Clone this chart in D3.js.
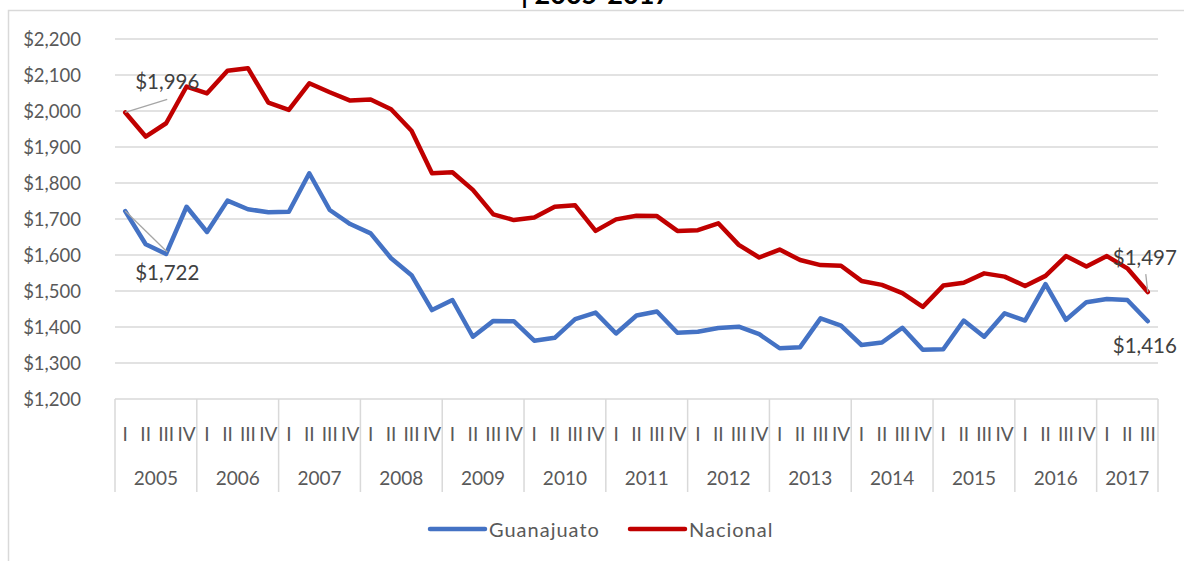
<!DOCTYPE html>
<html>
<head>
<meta charset="utf-8">
<script src="https://cdn.jsdelivr.net/npm/d3@7"></script>
<style>
  html, body { margin: 0; padding: 0; background: #fff; }
  svg { display: block; font-family: Lato, "Open Sans", sans-serif; }
</style>
</head>
<body>
<svg id="chart" width="1184" height="561"></svg>
<script>
// Data
const years = ["2005", "2006", "2007", "2008", "2009", "2010", "2011", "2012", "2013", "2014", "2015", "2016", "2017"];
const quarters = ["I", "II", "III", "IV"];

const guanajuato = [
    1722, 1630, 1603, 1734, 1664, 1751, 1727, 1719, 1720, 1827, 1725, 1686, 1660,
    1591, 1544, 1447, 1475, 1373, 1417, 1416, 1362, 1370, 1422, 1440, 1382, 1432,
    1443, 1384, 1387, 1397, 1401, 1380, 1341, 1344, 1424, 1404, 1350, 1357, 1398,
    1337, 1338, 1418, 1373, 1438, 1418, 1519, 1420, 1469, 1478, 1475, 1416
];
const nacional = [
    1996, 1929, 1966, 2068, 2049, 2112, 2119, 2023, 2003, 2077, 2052, 2029, 2032,
    2005, 1945, 1827, 1830, 1781, 1713, 1697, 1704, 1734, 1738, 1667, 1699, 1709,
    1708, 1667, 1669, 1688, 1628, 1593, 1615, 1586, 1572, 1570, 1528, 1517, 1494,
    1456, 1515, 1523, 1549, 1540, 1514, 1542, 1597, 1568, 1597, 1563, 1497
];
const yTicks = [1200, 1300, 1400, 1500, 1600, 1700, 1800, 1900, 2000, 2100, 2200];

// one category per quarter, 2017 stops at III
const periods = [];
years.forEach(y => {
    const n = y === "2017" ? 3 : 4;
    for (let q = 0; q < n; q++) periods.push({ year: y, q: quarters[q], key: y + "-" + quarters[q] });
});

const series = [
    { name: "Guanajuato", values: guanajuato, color: "#4472C4" },
    { name: "Nacional", values: nacional, color: "#C00000" }
];

const svg = d3.select("#chart");
const plotLeft = 115, plotRight = 1158, plotTop = 39, plotBottom = 399;
const gridColor = "#d9d9d9";
const textColor = "#595959";

const x = d3.scaleBand().domain(periods.map(p => p.key)).range([plotLeft, plotRight]).padding(0);
const y = d3.scaleLinear().domain([1200, 2200]).range([plotBottom, plotTop]);
const cx = i => x(periods[i].key) + x.bandwidth() / 2;
const fmt = d3.format("$,");

// chart frame (cropped)
svg.append("path")
    .attr("d", "M8.5,561 V10.5 H1184")
    .attr("fill", "none")
    .attr("stroke", gridColor)
    .attr("stroke-width", 1.5);

// title, mostly cut off above the frame (as in the source image)
svg.append("text")
    .attr("x", 521)
    .attr("y", 4)
    .attr("font-size", 27)
    .attr("font-weight", "bold")
    .attr("fill", "#000")
    .text("| 2005-2017");

// gridlines
svg.append("g")
    .selectAll("line")
    .data(yTicks)
    .join("line")
    .attr("x1", plotLeft)
    .attr("x2", plotRight)
    .attr("y1", d => y(d))
    .attr("y2", d => y(d))
    .attr("stroke", gridColor)
    .attr("stroke-width", 1.5);

// y axis labels
svg.append("g")
    .selectAll("text")
    .data(yTicks)
    .join("text")
    .attr("x", 81)
    .attr("y", d => y(d))
    .attr("text-anchor", "end")
    .attr("dominant-baseline", "central")
    .attr("font-size", 18.5)
    .attr("fill", textColor)
    .text(d => fmt(d));

// category axis: quarter labels, year labels, separators
const yearStarts = years.map(yr => periods.findIndex(p => p.year === yr));
const sepX = yearStarts.map(i => x(periods[i].key)).concat([plotRight]);

svg.append("g")
    .selectAll("line")
    .data(sepX)
    .join("line")
    .attr("x1", d => d)
    .attr("x2", d => d)
    .attr("y1", plotBottom)
    .attr("y2", 492)
    .attr("stroke", gridColor)
    .attr("stroke-width", 1.5);

svg.append("g")
    .selectAll("text")
    .data(periods)
    .join("text")
    .attr("x", (d, i) => cx(i))
    .attr("y", 433)
    .attr("text-anchor", "middle")
    .attr("dominant-baseline", "central")
    .attr("font-size", 19)
    .attr("fill", textColor)
    .text(d => d.q);

svg.append("g")
    .selectAll("text")
    .data(years)
    .join("text")
    .attr("x", (d, i) => (sepX[i] + sepX[i + 1]) / 2)
    .attr("y", 477)
    .attr("text-anchor", "middle")
    .attr("dominant-baseline", "central")
    .attr("font-size", 19)
    .attr("fill", textColor)
    .text(d => d);

// lines
const line = d3.line()
    .x((d, i) => cx(i))
    .y(d => y(d));

svg.append("g")
    .selectAll("path")
    .data(series)
    .join("path")
    .attr("d", d => line(d.values))
    .attr("fill", "none")
    .attr("stroke", d => d.color)
    .attr("stroke-width", 4.5)
    .attr("stroke-linejoin", "round")
    .attr("stroke-linecap", "round");

// data labels for first and last points
const last = periods.length - 1;
const labels = [
    { i: 0, v: nacional[0], dx: 10, dy: -31, lx: 42, ly: -13 },
    { i: 0, v: guanajuato[0], dx: 10, dy: 61, lx: 42, ly: 41 },
    { i: last, v: nacional[last], dx: -35, dy: -35, lx: -2, ly: -18 },
    { i: last, v: guanajuato[last], dx: -35, dy: 24, lx: null, ly: null }
];

labels.forEach(l => {
    const px = cx(l.i), py = y(l.v);
    if (l.lx !== null) {
        svg.append("line")
            .attr("x1", px)
            .attr("y1", py)
            .attr("x2", px + l.lx)
            .attr("y2", py + l.ly)
            .attr("stroke", "#a6a6a6")
            .attr("stroke-width", 1.3);
    }
    svg.append("text")
        .attr("x", px + l.dx)
        .attr("y", py + l.dy)
        .attr("dominant-baseline", "central")
        .attr("font-size", 20.5)
        .attr("fill", "#404040")
        .text(fmt(l.v));
});

// legend
const legend = svg.append("g");
const legendX = [430, 630];
series.forEach((s, i) => {
    legend.append("line")
        .attr("x1", legendX[i])
        .attr("x2", legendX[i] + 55)
        .attr("y1", 529)
        .attr("y2", 529)
        .attr("stroke", s.color)
        .attr("stroke-width", 4.5)
        .attr("stroke-linecap", "round");
    legend.append("text")
        .attr("x", legendX[i] + 59)
        .attr("y", 529)
        .attr("dominant-baseline", "central")
        .attr("font-size", 20)
        .attr("letter-spacing", 1)
        .attr("fill", textColor)
        .text(s.name);
});
</script>
</body>
</html>
